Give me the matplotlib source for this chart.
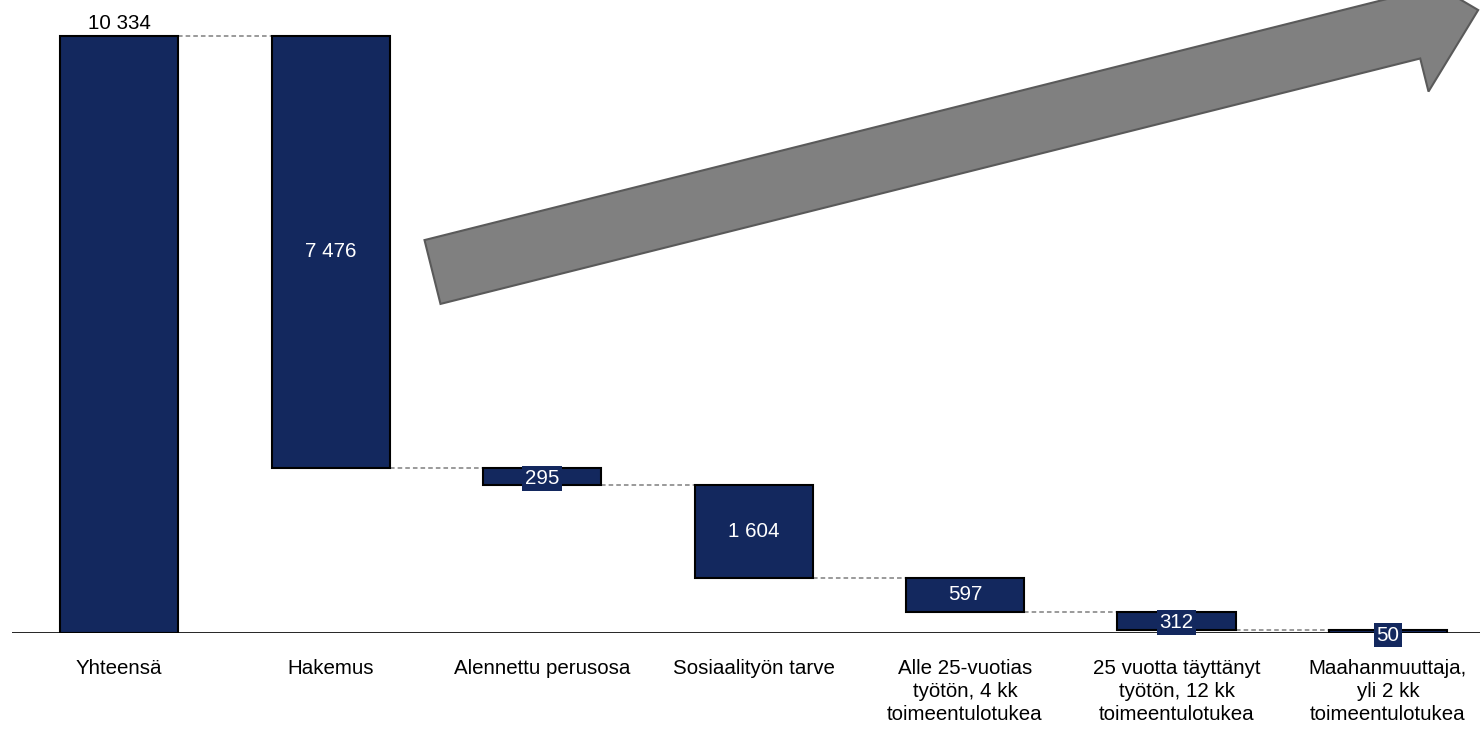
import numpy as np
import matplotlib.pyplot as plt
from matplotlib.patches import Polygon

plt.rcParams['font.family'] = ['Liberation Sans', 'DejaVu Sans']

# Vesiputouskaavion tiedot
kategoriat = ['Yhteensä', 'Hakemus', 'Alennettu perusosa', 'Sosiaalityön tarve',
              'Alle 25-vuotias\ntyötön, 4 kk\ntoimeentulotukea',
              '25 vuotta täyttänyt\ntyötön, 12 kk\ntoimeentulotukea',
              'Maahanmuuttaja,\nyli 2 kk\ntoimeentulotukea']
arvot = [10334, 7476, 295, 1604, 597, 312, 50]
# pienet palkit: label saa taustalaatikon
laatikolla = [False, False, True, False, False, True, True]

navy = '#13285e'
fs = 14.75

# pohjat: ensimmäinen palkki nollasta, muut laskevat summasta alaspäin
pohjat = [0]
jaljella = arvot[0]
for v in arvot[1:]:
    jaljella -= v
    pohjat.append(jaljella)
ylat = [p + v for p, v in zip(pohjat, arvot)]

def muotoile(n):
    return f'{n:,}'.replace(',', ' ')

fig = plt.figure(figsize=(14.8, 7.31), dpi=100)
ax = fig.add_axes([12 / 1480, (731 - 633) / 731, 1468 / 1480, 633 / 731])

x = np.arange(len(arvot))
leveys = 0.558
ax.bar(x, arvot, bottom=pohjat, width=leveys, color=navy, edgecolor='black',
       linewidth=1.5, zorder=3)

# katkoviivat palkkien välillä
for i in range(len(arvot) - 1):
    taso = ylat[0] if i == 0 else pohjat[i]
    ax.plot([x[i] + leveys / 2, x[i + 1] - leveys / 2], [taso, taso],
            ls=(0, (3, 2)), color='#7f7f7f', lw=1.1, zorder=2)

# arvot
for i, v in enumerate(arvot):
    if i == 0:
        ax.text(x[i], ylat[i] + 60, muotoile(v), ha='center', va='bottom',
                fontsize=fs, color='black')
    elif laatikolla[i]:
        ax.text(x[i], pohjat[i] + v / 2 - (60 if v < 100 else 30), muotoile(v),
                ha='center', va='center', fontsize=fs, color='white', zorder=5,
                bbox=dict(boxstyle='square,pad=0.14', fc=navy, ec='none'))
    else:
        ax.text(x[i], pohjat[i] + v / 2, muotoile(v), ha='center', va='center',
                fontsize=fs, color='white', zorder=5)

ax.axhline(0, color='black', lw=1.2, zorder=4)
ax.set_xlim(-0.506, 6.435)
ax.set_ylim(0, 10334 * 633 / 597)
ax.set_xticks(x)
ax.set_xticklabels(kategoriat, fontsize=fs, linespacing=1.25)
ax.tick_params(axis='x', length=0, pad=19)
ax.set_yticks([])
for s in ax.spines.values():
    s.set_visible(False)

# suuri harmaa nuoli (kuvan koordinaatit pikseleinä)
ax2 = fig.add_axes([0, 0, 1, 1], facecolor='none')
ax2.set_xlim(0, 1480)
ax2.set_ylim(731, 0)
ax2.axis('off')
c0 = np.array([432.5, 272.0])
u = np.array([982.0, -246.0]); u /= np.linalg.norm(u)
n = np.array([-u[1], u[0]])
pts = [(0, 32.9), (1010, 32.9), (1010, 67), (1078, 0), (1010, -67), (1010, -32.9), (0, -32.9)]
nuoli = [c0 + s * u + t * n for s, t in pts]
ax2.add_patch(Polygon(nuoli, closed=True, fc='#808080', ec='#5a5a5a', lw=1.5))

fig.savefig('out.png', dpi=100)
